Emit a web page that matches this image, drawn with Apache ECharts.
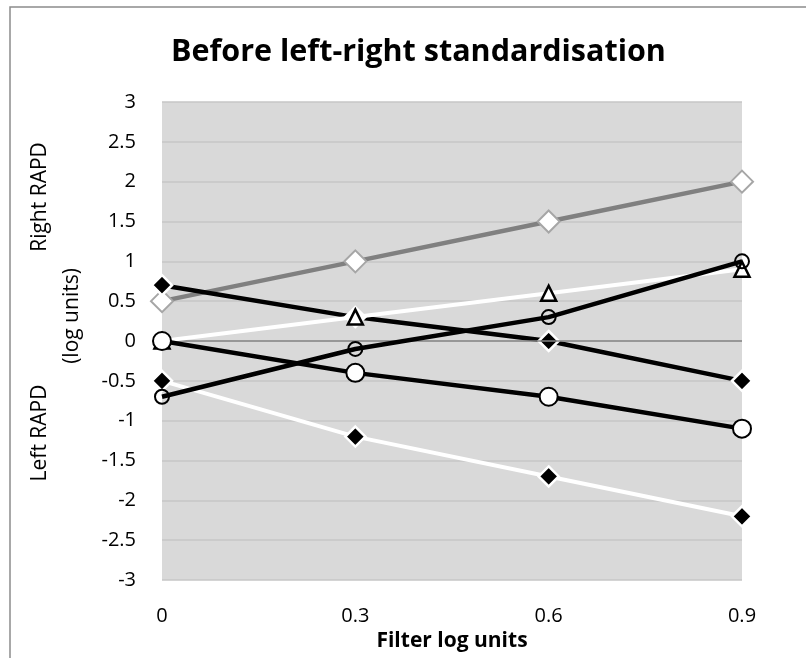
<!DOCTYPE html>
<html>
<head>
<meta charset="utf-8">
<script src="https://cdn.jsdelivr.net/npm/echarts@6/dist/echarts.min.js"></script>
<style>
  html, body { margin: 0; padding: 0; background: #fff; }
  #chart { width: 806px; height: 658px; }
</style>
</head>
<body>
<div id="chart"></div>
<script>
// Filter strength (log units) along the x axis
const filterSteps = [0, 0.3, 0.6, 0.9];
const xTicks = ['0', '0.3', '0.6', '0.9'];

// RAPD readings per case (positive = right, negative = left)
const greyDiamondLine   = [0.5, 1, 1.5, 2];
const whiteTriangleLine = [0, 0.3, 0.6, 0.9];
const whiteDiamondLine  = [-0.5, -1.2, -1.7, -2.2];
const blackDiamondLine  = [0.7, 0.3, 0, -0.5];
const openCircleLine    = [0, -0.4, -0.7, -1.1];
const smallCircleLine   = [-0.7, -0.1, 0.3, 1.0];

const FONT = 'Open Sans';

function pairs(vals) {
  return filterSteps.map((x, i) => [x, vals[i]]);
}

const chart = echarts.init(document.getElementById('chart'), null, { renderer: 'canvas' });

chart.setOption({
  backgroundColor: '#ffffff',
  animation: false,
  title: {
    text: 'Before left-right standardisation',
    left: 166,
    top: 32,
    textStyle: { fontFamily: FONT, fontSize: 30.5, fontWeight: 'bold', color: '#000' }
  },
  graphic: [
    { type: 'rect', shape: { x: 10, y: 7, width: 820, height: 680 },
      style: { fill: 'none', stroke: '#8c8c8c', lineWidth: 1.5 }, z: -1 },
    { type: 'text', x: 40, y: 197, rotation: Math.PI / 2,
      style: { text: 'Right RAPD', fontFamily: FONT, fontSize: 21, fill: '#000', align: 'center', verticalAlign: 'middle' } },
    { type: 'text', x: 72, y: 316, rotation: Math.PI / 2,
      style: { text: '(log units)', fontFamily: FONT, fontSize: 21, fill: '#000', align: 'center', verticalAlign: 'middle' } },
    { type: 'text', x: 40, y: 433, rotation: Math.PI / 2,
      style: { text: 'Left RAPD', fontFamily: FONT, fontSize: 21, fill: '#000', align: 'center', verticalAlign: 'middle' } }
  ],
  grid: {
    left: 162, top: 102, width: 580, height: 478,
    show: true, backgroundColor: '#d9d9d9', borderWidth: 0
  },
  xAxis: {
    type: 'value', min: 0, max: 0.9, interval: 0.3,
    name: 'Filter log units', nameLocation: 'middle', nameGap: 48,
    nameTextStyle: { fontFamily: FONT, fontSize: 21, fontWeight: 'bold', color: '#000' },
    axisLine: { show: false },
    axisTick: { show: false },
    splitLine: { show: false },
    axisLabel: {
      margin: 26, fontFamily: FONT, fontSize: 20, color: '#000',
      formatter: v => xTicks[Math.round(v / 0.3)]
    }
  },
  yAxis: {
    type: 'value', min: -3, max: 3, interval: 0.5,
    axisLine: { show: false },
    axisTick: { show: false },
    splitLine: { show: true, lineStyle: { color: '#c6c6c6', width: 1.5 } },
    axisLabel: { margin: 26, fontFamily: FONT, fontSize: 20, color: '#000' }
  },
  series: [
    {
      type: 'line', data: pairs(greyDiamondLine), z: 2,
      lineStyle: { color: '#808080', width: 4.5 },
      symbol: 'diamond', symbolSize: 22,
      itemStyle: { color: '#ffffff', borderColor: '#a6a6a6', borderWidth: 2 },
      markLine: {
        silent: true, symbol: 'none', label: { show: false },
        lineStyle: { color: '#868686', width: 1.5, type: 'solid' },
        data: [{ yAxis: 0 }]
      }
    },
    {
      type: 'line', data: pairs(whiteDiamondLine), z: 3,
      lineStyle: { color: '#ffffff', width: 4 },
      symbol: 'diamond', symbolSize: 20,
      itemStyle: { color: '#000000', borderColor: '#ffffff', borderWidth: 2.5 }
    },
    {
      type: 'line', z: 4,
      data: pairs(blackDiamondLine).map((p, i) => i === 1
        ? { value: p, itemStyle: { color: '#ffffff', borderColor: '#ffffff' } }
        : p),
      lineStyle: { color: '#000000', width: 4.5 },
      symbol: 'diamond', symbolSize: 20,
      itemStyle: { color: '#000000', borderColor: '#ffffff', borderWidth: 2.5 }
    },
    {
      type: 'line', data: pairs(whiteTriangleLine), z: 5,
      lineStyle: { color: '#ffffff', width: 4 },
      symbol: 'triangle', symbolSize: 15,
      itemStyle: { color: '#ffffff', borderColor: '#000000', borderWidth: 2.5 }
    },
    {
      type: 'line', data: pairs(openCircleLine), z: 6,
      lineStyle: { color: '#000000', width: 4.5 },
      symbol: 'circle', symbolSize: 18,
      itemStyle: { color: '#ffffff', borderColor: '#000000', borderWidth: 2 }
    },
    {
      type: 'line', data: pairs(smallCircleLine), z: 7,
      lineStyle: { color: '#000000', width: 4.5 },
      symbol: 'circle', symbolSize: 14,
      itemStyle: { color: 'rgba(0,0,0,0)', borderColor: '#000000', borderWidth: 2 }
    }
  ]
});
</script>
</body>
</html>
